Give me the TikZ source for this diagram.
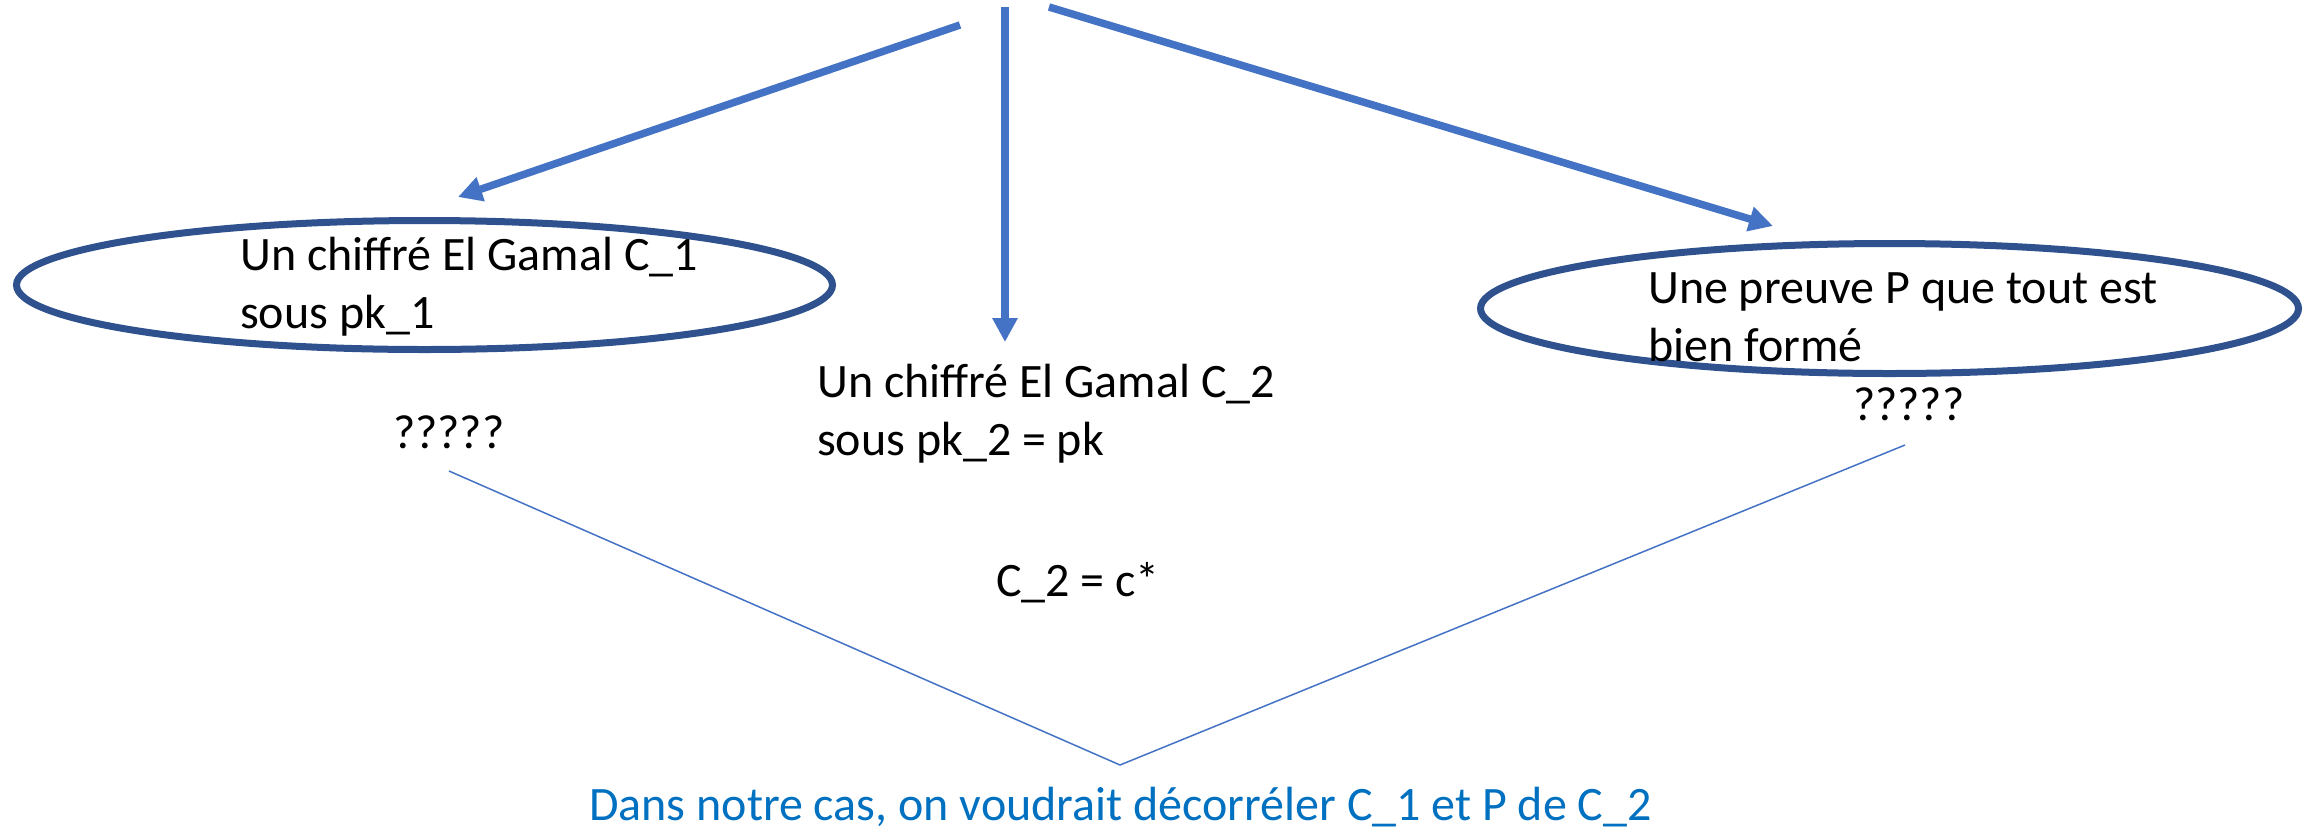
\documentclass[tikz,border=0pt]{standalone}
\usepackage{fontspec}
\setmainfont{Carlito}
\usetikzlibrary{arrows.meta,shapes.geometric}
\definecolor{arrowblue}{HTML}{4472C4}
\definecolor{ellblue}{HTML}{2F528F}
\definecolor{textblue}{HTML}{0070C0}
\tikzset{
  arr/.style={draw=arrowblue, line width=7.5pt, -{Triangle[length=24pt,width=24pt]}},
  ell/.style={draw=ellblue, line width=7pt, ellipse, inner sep=0pt},
  thin/.style={draw=arrowblue, line width=1.5pt},
  txt/.style={font=\fontsize{48}{58}\selectfont, align=left, inner sep=0pt, anchor=base west},
}
\begin{document}
\begin{tikzpicture}[x=1pt,y=-1pt]
\useasboundingbox (0,0) rectangle (2316,831);
% ellipses
\node[ell, minimum width=816pt, minimum height=129pt] (e1) at (424.5,285) {};
\node[ell, minimum width=818pt, minimum height=130pt] (e3) at (1889.5,308.5) {};
% texts (base anchor = baseline of last line)
\node[txt] (t1) at (240,328) {Un chiffré El Gamal C\_1\\sous pk\_1};
\node[txt] (t2) at (817,455) {Un chiffré El Gamal C\_2\\sous pk\_2 = pk};
\node[txt] (t3) at (1648,361) {Une preuve P que tout est\\bien formé};
\node[txt] (q1) at (393,448) {?????};
\node[txt] (q3) at (1853,420) {?????};
\node[txt] (c2) at (996,596) {C\_2 = c*};
\node[txt, text=textblue] (bot) at (589,820) {Dans notre cas, on voudrait décorréler C\_1 et P de C\_2};
% arrow coordinates
\coordinate (s1) at (960,25);
\coordinate (s2) at (1005,7);
\coordinate (s3) at (1049,7);
\coordinate (a1) at (458,197);
\coordinate (a2) at (1005,342);
\coordinate (a3) at (1773,226);
\draw[arr] (s1) -- (a1);
\draw[arr] (s2) -- (a2);
\draw[arr] (s3) -- (a3);
% V lines
\coordinate (v1) at (449,471);
\coordinate (v2) at (1120,765);
\coordinate (v3) at (1905,445);
\draw[thin] (v1) -- (v2) -- (v3);
\end{tikzpicture}
\end{document}
